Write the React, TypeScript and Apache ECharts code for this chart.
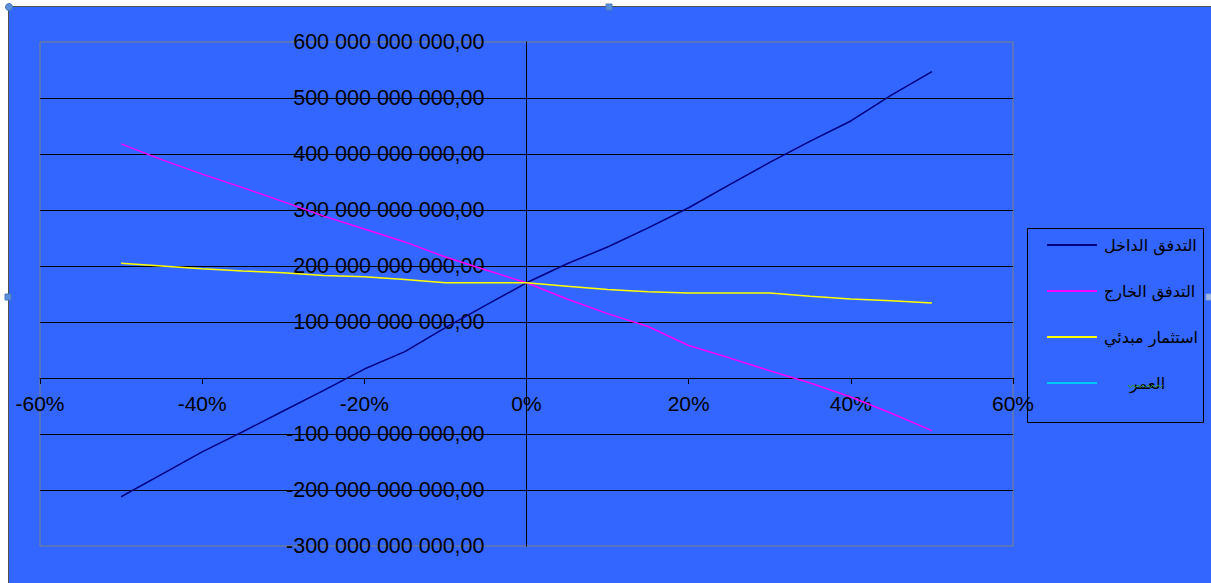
import React, { useEffect, useRef } from "react";
import * as echarts from "echarts";

// Growth rate (x, %)
const growthRates = [-50, -45, -40, -35, -30, -25, -20, -15, -10, -5, 0, 5, 10, 15, 20, 25, 30, 35, 40, 45, 50];
// Values in billions
const inflow = [-212, -172, -132, -96, -59, -22, 16, 47, 90, 130, 170, 204, 234, 268, 304, 345, 385, 423, 459, 505, 547];
const outflow = [418, 390, 364, 340, 315, 289, 266, 243, 216, 193, 170, 141, 115, 92, 58, 36, 13, -9, -34, -63, -94];
const initialInvestment = [205, 200, 195, 191, 188, 183, 181, 176, 170, 170, 170, 164, 158, 154, 152, 152, 152, 146, 141, 138, 134];
const age: number[] = [];

const seriesNames = ["التدفق الداخل", "التدفق الخارج", "استثمار مبدئي", "العمر"];
const seriesColors = ["#000080", "#FF00FF", "#FFFF00", "#00CCFF"];

const xTickSuffix = "%";

function formatY(v: number): string {
  if (v === 0) return "";
  const sign = v < 0 ? "-" : "";
  const s = Math.round(Math.abs(v)).toString();
  const parts: string[] = [];
  for (let i = s.length; i > 0; i -= 3) {
    parts.unshift(s.substring(Math.max(0, i - 3), i));
  }
  return sign + parts.join(" ") + ",00";
}

function toPairs(vals: number[]): [number, number][] {
  return vals.map((v, i) => [growthRates[i], v * 1e9]);
}

export default function App() {
  const ref = useRef<HTMLDivElement>(null);

  useEffect(() => {
    if (!ref.current) return;
    const chart = echarts.init(ref.current, undefined, { renderer: "svg" });
    const allSeries = [inflow, outflow, initialInvestment, age];
    const axisFont = "'Liberation Sans', Arial, sans-serif";
    const wavy: number[][] = [];
    for (let i = 0; i <= 14; i++) {
      wavy.push([1128 + i * 2.5, i % 2 === 0 ? 385 : 387.5]);
    }
    chart.setOption({
      animation: false,
      backgroundColor: "transparent",
      grid: {
        left: 40,
        top: 42,
        width: 973,
        height: 504,
        show: true,
        borderColor: "#808080",
        borderWidth: 1,
        backgroundColor: "transparent",
        containLabel: false,
        outerBoundsMode: "none",
      },
      xAxis: {
        type: "value",
        min: -60,
        max: 60,
        interval: 20,
        position: "bottom",
        offset: -168,
        axisLine: { show: true, onZero: false, lineStyle: { color: "#000", width: 1 } },
        axisTick: { show: true, length: 6, lineStyle: { color: "#000" } },
        axisLabel: {
          formatter: (v: number) => v + xTickSuffix,
          fontSize: 21,
          color: "#000",
          margin: 15,
          fontFamily: axisFont,
        },
        splitLine: { show: false },
      },
      yAxis: {
        type: "value",
        min: -300e9,
        max: 600e9,
        interval: 100e9,
        position: "left",
        offset: -486.5,
        axisLine: { show: true, onZero: false, lineStyle: { color: "#000", width: 1 } },
        axisTick: { show: false },
        axisLabel: {
          formatter: formatY,
          fontSize: 21.5,
          color: "#000",
          margin: 42,
          fontFamily: axisFont,
          padding: [0, 0, 6, 0],
        },
        splitLine: {
          show: true,
          showMinLine: false,
          showMaxLine: false,
          lineStyle: { color: "#000", width: 1 },
        },
      },
      legend: {
        orient: "vertical",
        left: 1042,
        top: 230,
        itemWidth: 50,
        itemHeight: 2,
        itemGap: 26,
        icon: "rect",
        textStyle: {
          fontSize: 16,
          lineHeight: 20,
          color: "#000",
          fontFamily: "'DejaVu Sans', sans-serif",
          padding: [0, 0, 0, 2],
        },
        data: seriesNames.map((n, i) =>
          i === 3
            ? { name: n, textStyle: { padding: [0, 0, 0, 28] } }
            : { name: n }
        ),
      },
      graphic: [
        {
          type: "rect",
          z: 100,
          shape: { x: 1027.5, y: 228.5, width: 176, height: 194 },
          style: { fill: "none", stroke: "#000", lineWidth: 1 },
        },
        {
          type: "polyline",
          z: 100,
          shape: { points: wavy },
          style: { fill: "none", stroke: "#2a9a2a", lineWidth: 1 },
        },
        { type: "circle", z: 100, shape: { cx: 9, cy: 7, r: 3.5 }, style: { fill: "#5b8fd8", stroke: "#4a78c0" } },
        { type: "rect", z: 100, shape: { x: 606, y: 4, width: 6, height: 6 }, style: { fill: "#5b8fd8", stroke: "#4a78c0" } },
        { type: "rect", z: 100, shape: { x: 5, y: 294, width: 6, height: 6 }, style: { fill: "#5b8fd8", stroke: "#4a78c0" } },
        { type: "rect", z: 100, shape: { x: 1206, y: 294, width: 6, height: 6 }, style: { fill: "#9fb8e8", stroke: "#7f9fd8" } },
      ],
      series: allSeries.map((vals, i) => ({
        name: seriesNames[i],
        type: "line",
        data: toPairs(vals),
        showSymbol: false,
        symbol: "none",
        color: seriesColors[i],
        lineStyle: { color: seriesColors[i], width: 1.5 },
        z: 3,
      })),
    });
    return () => chart.dispose();
  }, []);

  return (
    <div style={{ position: "absolute", left: 0, top: 0, width: 1211, height: 583, background: "#fff", overflow: "hidden" }}>
      <div
        style={{
          position: "absolute",
          left: 8,
          top: 6,
          width: 1210,
          height: 590,
          background: "#3366FF",
          borderTop: "1.5px solid #505050",
          borderLeft: "1.5px solid #505050",
        }}
      />
      <div ref={ref} style={{ position: "absolute", left: 0, top: 0, width: 1211, height: 583 }} />
    </div>
  );
}
